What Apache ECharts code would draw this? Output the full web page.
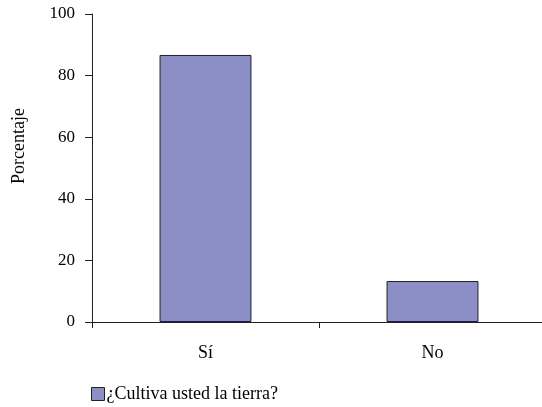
<!DOCTYPE html>
<html>
<head>
<meta charset="utf-8">
<script src="https://cdn.jsdelivr.net/npm/echarts@6/dist/echarts.min.js"></script>
<style>
html, body { margin: 0; padding: 0; background: #fff; }
#chart { width: 542px; height: 407px; }
</style>
</head>
<body>
<div id="chart"></div>
<script>
const categories = ["Sí", "No"];
const cultiva = [86.7, 13.3];
const seriesName = "¿Cultiva usted la tierra?";

const font = "'Liberation Serif', 'DejaVu Serif', serif";
var chart = echarts.init(document.getElementById("chart"));
chart.setOption({
  animation: false,
  textStyle: { fontFamily: font },
  grid: { left: 92, width: 454, top: 14, bottom: 85, containLabel: false, outerBoundsMode: "none" },
  legend: {
    data: [seriesName],
    left: 91,
    top: 385,
    padding: 0,
    icon: "rect",
    itemWidth: 13,
    itemHeight: 13,
    itemGap: 5,
    itemStyle: { borderColor: "#222", borderWidth: 1 },
    textStyle: { fontFamily: font, fontSize: 18, color: "#000", padding: [0, 0, 0, -3] }
  },
  xAxis: {
    type: "category",
    data: categories,
    axisLine: { lineStyle: { color: "#222", width: 1 } },
    axisTick: { show: true, length: 6, lineStyle: { color: "#222" } },
    axisLabel: { color: "#000", fontSize: 18, margin: 22, fontFamily: font }
  },
  yAxis: {
    type: "value",
    min: 0,
    max: 100,
    interval: 20,
    name: "Porcentaje",
    nameLocation: "middle",
    nameGap: 64,
    nameTextStyle: { color: "#000", fontSize: 18, fontFamily: font, padding: [0, 0, 0, 44] },
    axisLine: { show: true, lineStyle: { color: "#222", width: 1 } },
    axisTick: { show: true, length: 7, lineStyle: { color: "#222" } },
    axisLabel: { color: "#000", fontSize: 17, margin: 17, fontFamily: font },
    splitLine: { show: false }
  },
  series: [{
    name: seriesName,
    type: "bar",
    data: cultiva,
    barWidth: "40.5%",
    itemStyle: { color: "#8C8FC6", borderColor: "#222", borderWidth: 1 }
  }]
});
</script>
</body>
</html>
